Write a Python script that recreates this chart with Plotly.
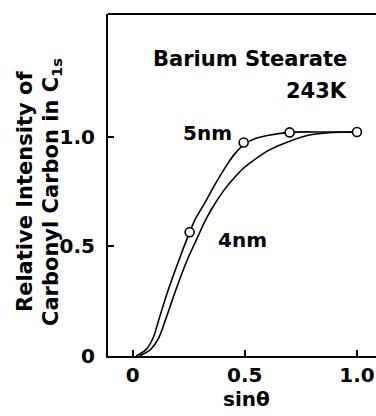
import plotly.graph_objects as go

# 5 nm curve (upper, passes through the measured points)
x5_curve = [0.015, 0.06, 0.09, 0.117, 0.158, 0.2, 0.254, 0.277, 0.321, 0.366, 0.411,
            0.455, 0.5, 0.55, 0.6, 0.70, 0.85, 1.0]
y5_curve = [0.0, 0.03, 0.08, 0.167, 0.30, 0.42, 0.565, 0.62, 0.697, 0.781, 0.857,
            0.922, 0.968, 0.993, 1.006, 1.02, 1.022, 1.022]
x5_pts = [0.254, 0.495, 0.70, 1.0]
y5_pts = [0.565, 0.974, 1.02, 1.022]

# 4 nm curve (lower)
x4_curve = [0.03, 0.08, 0.115, 0.147, 0.192, 0.24, 0.284, 0.33, 0.37, 0.41, 0.455,
            0.5, 0.545, 0.61, 0.70, 0.80, 0.9, 1.0]
y4_curve = [0.0, 0.03, 0.08, 0.167, 0.30, 0.43, 0.53, 0.63, 0.70, 0.76, 0.815,
            0.862, 0.897, 0.94, 0.98, 1.01, 1.02, 1.022]

x_ticks = [0, 0.5, 1.0]
x_tick_text = ["0", "0.5", "1.0"]
y_ticks = [0, 0.5, 1.0]
y_tick_text = ["0", "0.5", "1.0"]

FONT = "DejaVu Sans"

fig = go.Figure()
fig.add_trace(go.Scatter(x=x4_curve, y=y4_curve, mode="lines",
                         line=dict(color="black", width=1.6, shape="spline", smoothing=1.0),
                         hoverinfo="skip", showlegend=False))
fig.add_trace(go.Scatter(x=x5_curve, y=y5_curve, mode="lines",
                         line=dict(color="black", width=1.6, shape="spline", smoothing=1.0),
                         hoverinfo="skip", showlegend=False))
fig.add_trace(go.Scatter(x=x5_pts, y=y5_pts, mode="markers",
                         marker=dict(symbol="circle", size=9, color="white",
                                     line=dict(color="black", width=1.6)),
                         cliponaxis=False, showlegend=False))

fig.update_layout(
    width=376, height=416,
    margin=dict(l=108, r=0, t=14, b=60),
    paper_bgcolor="white", plot_bgcolor="white",
    font=dict(family=FONT, size=20, color="black", weight="bold"),
    xaxis=dict(range=[-0.11, 1.085], tickvals=x_ticks, ticktext=x_tick_text,
               ticks="inside", ticklen=6, tickwidth=1.5, tickcolor="black",
               showline=True, linecolor="black", linewidth=2, mirror=False,
               showgrid=False, zeroline=False, ticklabelstandoff=0,
               tickfont=dict(family=FONT, size=20, weight="bold")),
    yaxis=dict(range=[0, 1.56], tickvals=y_ticks, ticktext=y_tick_text,
               ticks="inside", ticklen=6, tickwidth=1.5, tickcolor="black",
               showline=True, linecolor="black", linewidth=2, mirror=False,
               showgrid=False, zeroline=False, ticklabelstandoff=7,
               tickfont=dict(family=FONT, size=20, weight="bold")),
)

# top frame line
fig.add_shape(type="line", xref="paper", yref="paper", x0=0, x1=1, y0=1, y1=1,
              line=dict(color="black", width=2))


def px_ann(px, py, text, xanchor="center", angle=0, size=20):
    fig.add_annotation(
        x=(px - 108) / (376 - 108), y=(356 - py) / (356 - 14),
        xref="paper", yref="paper", text=text, showarrow=False,
        xanchor=xanchor, yanchor="middle", textangle=angle,
        font=dict(family=FONT, size=size, color="black", weight="bold"))


px_ann(349, 59, "Barium Stearate", xanchor="right", size=21)
px_ann(349, 91, "243K", xanchor="right", size=21)
px_ann(207, 133, "5nm")
px_ann(242, 240, "4nm")
px_ann(246, 399, "sinθ")
px_ann(25, 192, "Relative Intensity of", angle=-90, size=21)
px_ann(52, 192, "Carbonyl Carbon in C<sub>1s</sub>", angle=-90, size=21)

fig.write_html("out.html", config={"displayModeBar": False},
               post_script="document.body.style.margin='0';")
